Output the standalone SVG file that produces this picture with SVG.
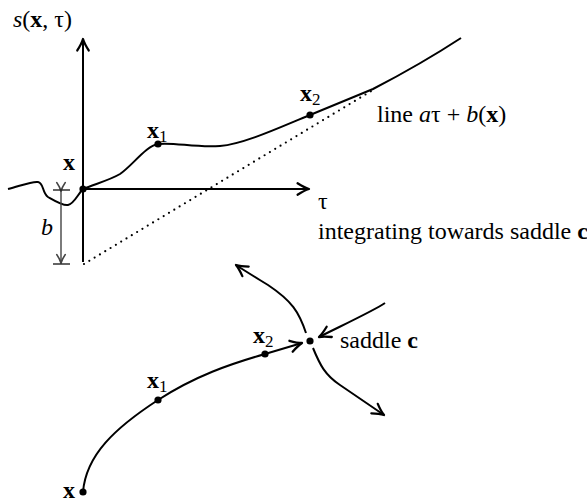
<svg xmlns="http://www.w3.org/2000/svg" width="587" height="502" viewBox="0 0 587 502">
<style>
.ln{fill:none;stroke:#000;stroke-width:2;stroke-linejoin:round}
.dot{fill:#000}
.t{font-family:"Liberation Serif","Times New Roman",serif;font-size:24px;fill:#000}
.b{font-weight:bold}
.i{font-style:italic}
.sub{font-size:17px}
</style>
<defs>
<marker id="ah" markerUnits="userSpaceOnUse" markerWidth="16" markerHeight="16" viewBox="-12 -7 14 14" refX="0" refY="0" orient="auto">
<path d="M-10,-5 Q-4,-1.2 0,0 Q-4,1.2 -10,5" fill="none" stroke="#000" stroke-width="2" stroke-linecap="round" stroke-linejoin="round"/>
</marker>
<marker id="ahg" markerUnits="userSpaceOnUse" markerWidth="12" markerHeight="12" viewBox="-9 -5 10 10" refX="0" refY="0" orient="auto">
<path d="M-7,-3.5 Q-3,-0.8 0,0 Q-3,0.8 -7,3.5" fill="none" stroke="#444" stroke-width="1.4" stroke-linecap="round"/>
</marker>
</defs>

<g id="connectors">
<!-- axes -->
<line class="ln" x1="83" y1="262" x2="83" y2="39" marker-end="url(#ah)"/>
<line class="ln" x1="83" y1="189" x2="309" y2="189" marker-end="url(#ah)"/>
<!-- top curve s(x,tau) -->
<path class="ln" d="M8,189 C20,186 32,181 38,182 C44,183 42,193 48,197 C55,201 63,206 68,205 C74,204 78,194 83,189 C95,184 110,180 120,174 C132,166 146,146 158,144 C175,142 195,148 220,146 C245,144 285,125 310,115 L373,89 C400,75 435,55 461,38"/>
<!-- dotted line a tau + b(x) -->
<line x1="84" y1="264" x2="373" y2="90" stroke="#000" stroke-width="2.2" stroke-linecap="round" stroke-dasharray="0 6.2"/>
<!-- b dimension -->
<line x1="61" y1="191" x2="61" y2="263" stroke="#444" stroke-width="1.4" marker-start="url(#ahg)" marker-end="url(#ahg)"/>
<line x1="53" y1="190" x2="70" y2="190" stroke="#222" stroke-width="1.4"/>
<line x1="53" y1="264" x2="70" y2="264" stroke="#222" stroke-width="1.4"/>
<!-- bottom trajectory -->
<path class="ln" d="M83,492 C86,455 115,428 158,400 C195,376 230,364 265,354 L302,343" marker-end="url(#ah)"/>
<!-- separatrices -->
<path class="ln" d="M306,333 C299,312 292,301 268,285 C255,277 245,271 236,265" marker-end="url(#ah)"/>
<path class="ln" d="M385,303 C375,310 345,324 319,337" marker-end="url(#ah)"/>
<path class="ln" d="M313,348 C320,365 325,375 340,385 L384,415" marker-end="url(#ah)"/>
</g>

<g id="origin"><circle class="dot" cx="83" cy="189" r="3.6"/><text class="t b" x="63" y="170">x</text></g>
<g id="x1-top"><circle class="dot" cx="158" cy="144" r="3.6"/><text class="t" x="147" y="138"><tspan class="b">x</tspan><tspan class="sub" dy="4">1</tspan></text></g>
<g id="x2-top"><circle class="dot" cx="310" cy="115" r="3.6"/><text class="t" x="300" y="101"><tspan class="b">x</tspan><tspan class="sub" dy="4">2</tspan></text></g>
<g id="x-bottom"><circle class="dot" cx="83" cy="492" r="3.6"/><text class="t b" x="63" y="498">x</text></g>
<g id="x1-bottom"><circle class="dot" cx="158" cy="400" r="3.6"/><text class="t" x="147" y="388"><tspan class="b">x</tspan><tspan class="sub" dy="4">1</tspan></text></g>
<g id="x2-bottom"><circle class="dot" cx="265" cy="354" r="3.6"/><text class="t" x="253" y="343"><tspan class="b">x</tspan><tspan class="sub" dy="4">2</tspan></text></g>
<g id="saddle"><circle class="dot" cx="310" cy="341" r="3.6"/><text class="t" x="340" y="348">saddle <tspan class="b">c</tspan></text></g>

<g id="labels">
<text class="t" x="13" y="27"><tspan class="i">s</tspan>(<tspan class="b">x</tspan>, τ)</text>
<text class="t i" x="41" y="235">b</text>
<text class="t" x="318" y="209">τ</text>
<text class="t" x="318" y="239">integrating towards saddle <tspan class="b">c</tspan></text>
<text class="t" x="377" y="122">line <tspan class="i">a</tspan>τ + <tspan class="i">b</tspan>(<tspan class="b">x</tspan>)</text>
</g>
</svg>
